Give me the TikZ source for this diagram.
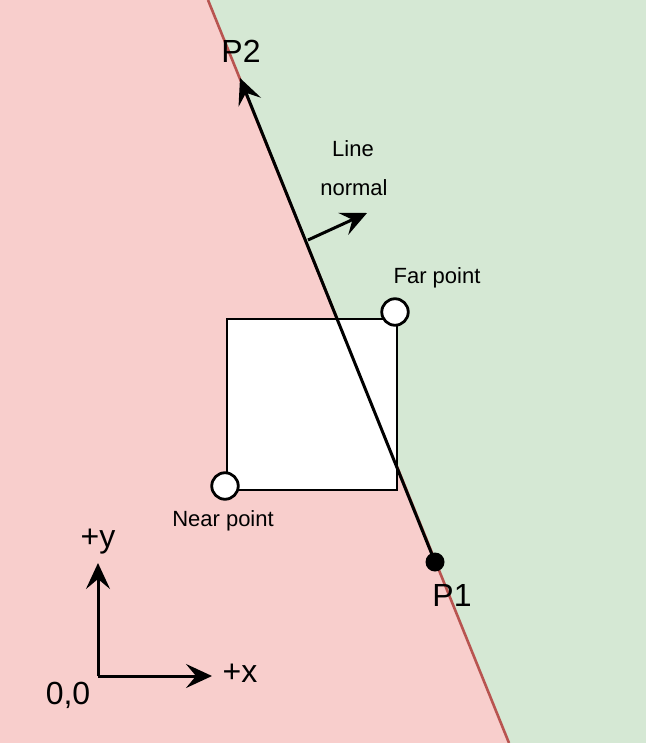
\documentclass[tikz,border=0pt]{standalone}
\usepackage{fontspec}
\setmainfont{Liberation Sans}
\usetikzlibrary{arrows.meta}
\definecolor{zonerouge}{HTML}{F8CECC}
\definecolor{zoneverte}{HTML}{D5E8D4}
\definecolor{bordrouge}{HTML}{B85450}
\begin{document}
\begin{tikzpicture}[x=1pt,y=-1pt,
    grand/.style={font=\fontsize{32}{38}\selectfont},
    petit/.style={font=\fontsize{22}{26}\selectfont},
    coin/.style={circle,draw,fill=white,line width=2.8pt,minimum size=26.5pt,inner sep=0pt},
    fleche/.style={line width=3pt,-{Stealth[length=26pt,width=24pt,inset=10pt]}}]
        \useasboundingbox (0,0) rectangle (646,743);

        % Demi-plans
        \fill[zoneverte] (0,0) rectangle (646,743);
        \fill[zonerouge] (0,0) -- (208,0) -- (509,743) -- (0,743) -- cycle;
        \draw[bordrouge, line width=2.6pt] (208,0) -- (509,743);

        % Boite
        \node[draw, fill=white, line width=2.8pt, minimum width=170pt, minimum height=171pt, inner sep=0pt] (boite) at (312,404.5) {};
        \node[coin] (far) at (395,312) {};
        \node[petit] (farlbl) at (437,278) {Far point};
        \node[coin] (near) at (225,486) {};
        \node[petit] (nearlbl) at (223,521) {Near point};

        % Ligne P1 -> P2
        \node[circle, fill=black, minimum size=19pt, inner sep=0pt] (P1) at (435,562) {};
        \coordinate (P2) at (240,78);
        \draw[fleche] (P1.center) -- (P2);
        \node[grand] (P1lbl) at (452,595) {P1};
        \node[grand] (P2lbl) at (241,51) {P2};

        % Normale
        \coordinate (nbase) at (308,240);
        \coordinate (ntip) at (367,213);
        \draw[fleche] (nbase) -- (ntip);
        \node[petit] (nlbl1) at (353,149) {Line};
        \node[petit] (nlbl2) at (354,188) {normal};

        % Repere
        \coordinate (orig) at (98,676);
        \coordinate (ytip) at (98,563);
        \coordinate (xtip) at (212,676);
        \draw[fleche] (orig) -- (ytip);
        \draw[fleche] (orig) -- (xtip);
        \node[grand] (ylbl) at (98,542) {+y};
        \node[grand] (xlbl) at (240,673) {+x};
        \node[grand] (olbl) at (68,695) {0,0};
    \end{tikzpicture}
\end{document}
